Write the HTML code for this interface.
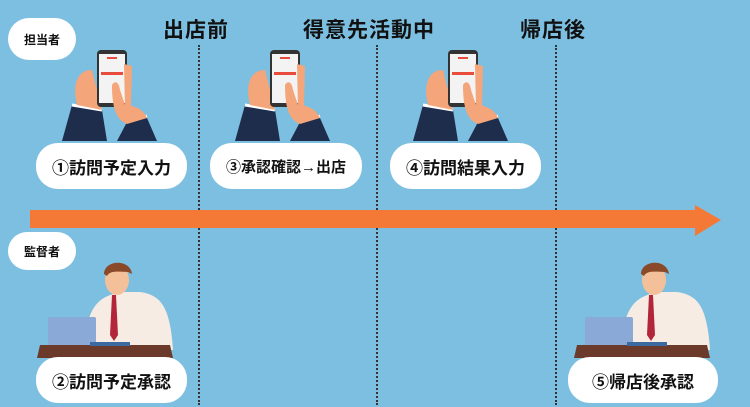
<!DOCTYPE html>
<html><head><meta charset="utf-8"><style>
html,body{margin:0;padding:0}
body{width:750px;height:407px;background:#7dbfe0;position:relative;overflow:hidden;font-family:"Liberation Sans","Noto Sans CJK JP",sans-serif}
.h{position:absolute;top:14px;font-size:21px;font-weight:bold;color:#111;letter-spacing:1px}
.pill{position:absolute;background:#fff;border-radius:22px;font-weight:bold;color:#111;display:flex;align-items:center;justify-content:center}
.big{font-size:17px;height:46px}
.sm{font-size:12px}
.dot{position:absolute;top:45px;height:360px;width:0;border-left:2px dotted #333}
svg{position:absolute;left:0;top:0}
</style></head><body>
<div class="dot" style="left:198px"></div>
<div class="dot" style="left:376px"></div>
<div class="dot" style="left:555px"></div>
<div class="h" style="left:163px">出店前</div>
<div class="h" style="left:303px">得意先活動中</div>
<div class="h" style="left:520px">帰店後</div>
<div class="pill sm" style="left:8px;top:18px;width:68px;height:42px">担当者</div>
<div class="pill sm" style="left:8px;top:232px;width:68px;height:38px">監督者</div>
<svg width="750" height="407">
<defs>
<g id="hand">
<path d="M-35 91 L-25 55 L5 60 L10 91 Z" fill="#1f2d4d"/>
<path d="M20 91 L30 72 L50 68 L60 91 Z" fill="#1f2d4d"/>
<path d="M-25 55 L5 60" stroke="#fff" stroke-width="3"/>
<path d="M30 72 L50 66" stroke="#fff" stroke-width="3"/>
<path d="M-20 55 C-25 35 -20 20 -5 20 L5 60 Z" fill="#f4a57a"/>
<rect x="0" y="0" width="30" height="57" rx="4" fill="#333"/>
<rect x="2" y="4" width="26" height="49" fill="#f3f3f3"/>
<rect x="4" y="22" width="22" height="3" fill="#e74c3c"/>
<rect x="10" y="7" width="10" height="2" fill="#e74c3c"/>
<path d="M27 14 l8 2 l-1 40 l-6 2 Z" fill="#f4a57a"/>
<path d="M15 35 C18 30 22 32 23 40 L28 55 C40 55 48 62 50 68 L30 74 C20 70 15 60 15 35 Z" fill="#f4a57a"/>
</g>
<g id="man">
<path d="M-10 90 C-10 40 10 35 28 32 L45 32 C65 35 75 45 78 90 Z" fill="#f6ece4"/>
<path d="M17 35 l4 0 l2 40 l-4 6 l-4 -6 Z" fill="#b3263a"/>
<ellipse cx="22" cy="20" rx="12" ry="15" fill="#f4c09a"/>
<path d="M9 14 C9 0 35 -2 37 14 L33 12 C25 12 15 10 12 16 Z" fill="#8a4a2a"/>
<rect x="-47" y="57" width="48" height="34" rx="2" fill="#8aa9d6"/>
<path d="M-55 85 L75 85 L78 98 L-58 98 Z" fill="#6b3a2a"/>
<rect x="-5" y="82" width="40" height="4" fill="#3a6aa0"/>
</g>
</defs>
<use href="#hand" x="97" y="50"/>
<use href="#hand" x="270" y="50"/>
<use href="#hand" x="448" y="50"/>
<use href="#man" x="95" y="260"/>
<use href="#man" x="632" y="260"/>
<path d="M30 210 L695 210 L695 205 L721 220 L695 236 L695 228 L30 228 Z" fill="#f47936"/>
</svg>
<div class="pill big" style="left:36px;top:143px;width:151px">①訪問予定入力</div>
<div class="pill big" style="left:210px;top:143px;width:152px;font-size:15px">③承認確認→出店</div>
<div class="pill big" style="left:390px;top:143px;width:151px">④訪問結果入力</div>
<div class="pill big" style="left:36px;top:357px;width:151px">②訪問予定承認</div>
<div class="pill big" style="left:568px;top:357px;width:150px">⑤帰店後承認</div>
</body></html>
